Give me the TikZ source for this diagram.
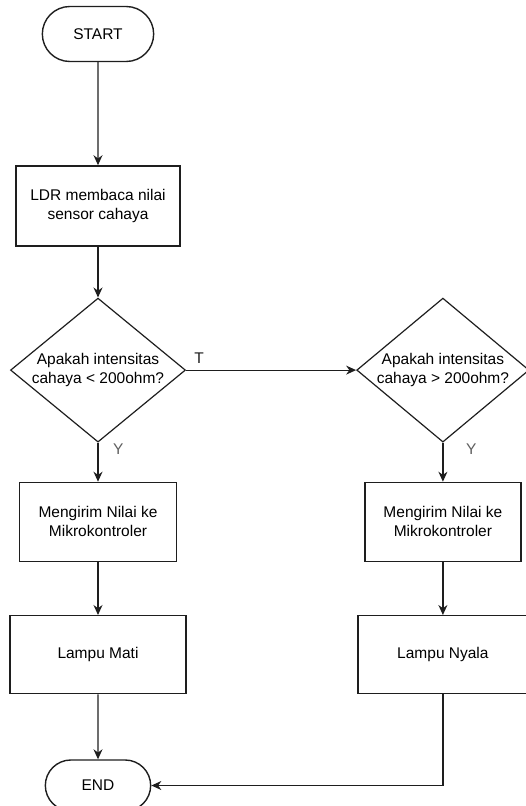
\documentclass[tikz,border=0pt]{standalone}
\usepackage{fontspec}
\setmainfont{Liberation Sans}
\usetikzlibrary{shapes.geometric, shapes.misc, arrows.meta, positioning}
\definecolor{flowline}{RGB}{30,30,30}
\definecolor{answergray}{RGB}{95,95,95}

\begin{document}
\begin{tikzpicture}[
    x=1pt, y=1pt,
    node distance=40pt,
    terminal/.style={rounded rectangle, minimum width=118pt, minimum height=55pt, text centered, draw=flowline, line width=1.4pt, font=\fontsize{15.5}{19}\selectfont},
    process/.style={rectangle, minimum height=79pt, align=center, draw=flowline, line width=1.3pt, font=\fontsize{15.5}{19}\selectfont},
    decision/.style={diamond, aspect=1.2, minimum width=175pt, minimum height=144pt, inner sep=0pt, align=center, draw=flowline, line width=1.2pt, font=\fontsize{15.5}{19}\selectfont},
    arrow/.style={-{Stealth[length=10pt, width=9pt]}, line width=1.2pt, color=flowline},
    answer/.style={inner sep=0pt, font=\fontsize{15.5}{19}\selectfont}
]
\useasboundingbox (0,0) rectangle (526,-806);

% Left column, top to bottom
\node[terminal] (start) at (98,-34) {START};
\node[process, minimum width=164pt, minimum height=80pt, below=103pt of start] (read) {LDR membaca nilai\\sensor cahaya};
\node[decision, below=51pt of read] (check1) {Apakah intensitas\\cahaya < 200ohm?};
\node[process, minimum width=157pt, below=39pt of check1] (send1) {Mengirim Nilai ke\\Mikrokontroler};
\node[process, minimum width=176pt, minimum height=78pt, below=53pt of send1] (lampoff) {Lampu Mati};
\node[terminal, minimum width=112pt, minimum height=51pt, below=65pt of lampoff] (stop) {END};

% Right column
\node[decision, minimum width=170pt, right=170pt of check1] (check2) {Apakah intensitas\\cahaya > 200ohm?};
\node[process, minimum width=156pt, below=39pt of check2] (send2) {Mengirim Nilai ke\\Mikrokontroler};
\node[process, minimum width=170pt, minimum height=78pt, below=53pt of send2] (lampon) {Lampu Nyala};

% Answers
\node[answer, text=flowline, above right=6pt and 8pt of check1.east] (no1) {T};
\node[answer, text=answergray, below right=1pt and 15pt of check1.south] (yes1) {Y};
\node[answer, text=answergray, below right=1pt and 23pt of check2.south] (yes2) {Y};

% Arrows
\draw[arrow] (start) -- (read);
\draw[arrow] (read) -- (check1);
\draw[arrow] (check1) -- (check2);
\draw[arrow] (check1) -- (send1);
\draw[arrow] (send1) -- (lampoff);
\draw[arrow] (lampoff) -- (stop);
\draw[arrow] (check2) -- (send2);
\draw[arrow] (send2) -- (lampon);
\draw[arrow] (lampon) |- (stop);

\end{tikzpicture}
\end{document}
